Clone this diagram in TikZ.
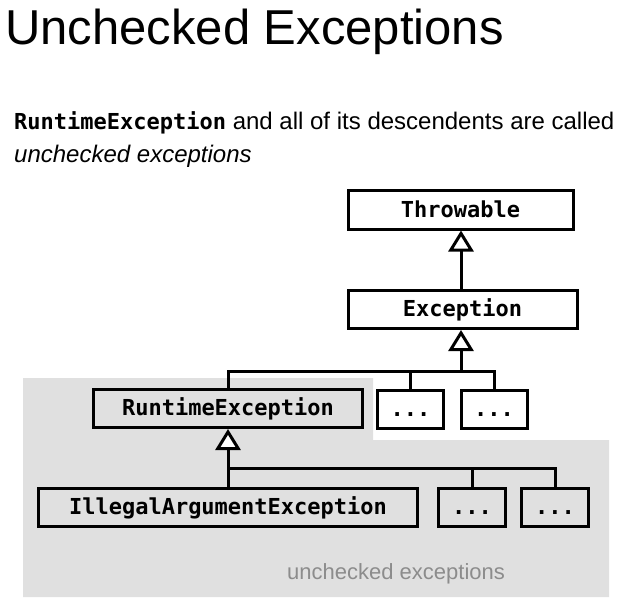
\documentclass[tikz,border=0pt]{standalone}
\usepackage{fontspec}
\setmainfont{Liberation Sans}
\setmonofont{DejaVu Sans Mono}
\usetikzlibrary{arrows.meta}
\definecolor{regiongray}{RGB}{224,224,224}
\definecolor{labelgray}{RGB}{140,140,140}
\tikzset{
  classbox/.style={draw=black, line width=3pt, minimum height=38pt, inner sep=0pt,
    text height=17pt, text depth=3pt,
    font=\fontsize{22}{26}\selectfont\ttfamily\bfseries},
  link/.style={draw=black, line width=3pt},
  inherit/.style={link, -{Triangle[length=21pt, width=25pt, fill=white]}},
}
\begin{document}
\begin{tikzpicture}[x=1pt, y=-1pt]
\useasboundingbox (0,0) rectangle (626,604);
\fill[white] (0,0) rectangle (626,604);
% gray region
\fill[regiongray] (23,378) -- (373,378) -- (373,440) -- (609,440) -- (609,597) -- (23,597) -- cycle;

% texts
\node[anchor=base west, inner sep=0pt, font=\fontsize{49}{56}\selectfont] (title) at (5,45) {Unchecked Exceptions};
\node[anchor=base west, inner sep=0pt, font=\fontsize{24}{28}\selectfont] (line1) at (14,130)
  {{\fontsize{22}{26}\selectfont\ttfamily\bfseries RuntimeException} and all of its descendents are called};
\node[anchor=base west, inner sep=0pt, font=\fontsize{24}{28}\selectfont\itshape] (line2) at (14,163) {unchecked exceptions};
\node[anchor=base west, inner sep=0pt, font=\fontsize{22}{26}\selectfont, text=labelgray] (rlabel) at (287,579) {unchecked exceptions};

% boxes
\node[classbox, minimum width=225pt] (thr) at (460.5,210) {Throwable};
\node[classbox, minimum width=229pt] (exc) at (462.5,309.5) {Exception};
\node[classbox, minimum width=269pt] (rte) at (228,408.5) {RuntimeException};
\node[classbox, minimum width=66pt] (d1) at (410.5,409) {...};
\node[classbox, minimum width=66pt] (d2) at (494,409) {...};
\node[classbox, minimum width=379pt] (iae) at (228,507) {IllegalArgumentException};
\node[classbox, minimum width=67pt] (d3) at (472,507) {...};
\node[classbox, minimum width=67pt] (d4) at (555,507) {...};

% junction points
\coordinate (a1) at (461,329);
\coordinate (j1) at (461,371);
\coordinate (j2) at (228,468);

% connectors
\draw[inherit] (exc.north -| a1) -- (thr.south -| a1);
\draw[inherit] (j1) -- (exc.south -| a1);
\draw[link] (rte.north) |- (d2.north |- j1) -- (d2.north);
\draw[link] (d1.north) -- (d1.north |- j1);
\draw[inherit] (j2) -- (rte.south);
\draw[link] (iae.north) |- (d4.north |- j2) -- (d4.north);
\draw[link] (d3.north) -- (d3.north |- j2);
\end{tikzpicture}
\end{document}
